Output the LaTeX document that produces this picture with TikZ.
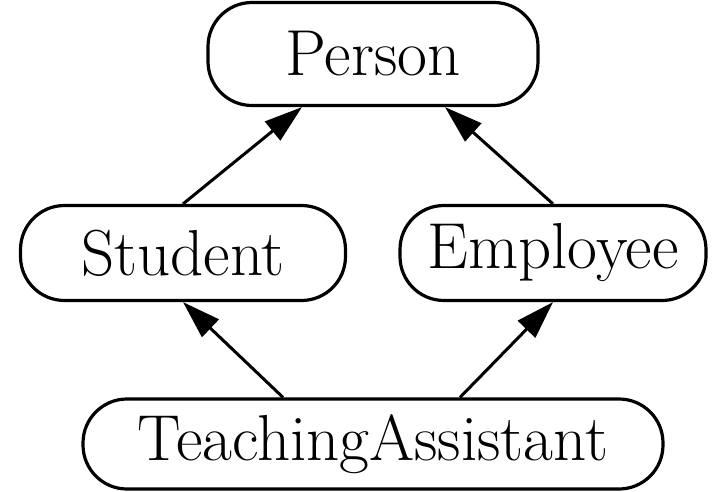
\documentclass[tikz,border=0pt]{standalone}
\usepackage{fontspec}
\usetikzlibrary{arrows.meta}
\begin{document}
\begin{tikzpicture}[x=1pt,y=-1pt,>={Triangle[length=38pt,width=24pt]},
  font=\fontsize{65}{70}\selectfont,
  cls/.style={draw,line width=3.2pt,rounded corners=44pt,inner sep=0pt},
  isa/.style={->,line width=3pt}]
\useasboundingbox (0,0) rectangle (713,491);
\node[cls,minimum width=330pt,minimum height=103pt] (person) at (373,54) {Person};
\node[cls,minimum width=325pt,minimum height=95pt] (student) at (183,253) {Student};
\node[cls,minimum width=306pt,minimum height=95pt] (employee) at (553,253) {Employee};
\node[cls,minimum width=580pt,minimum height=90pt] (ta) at (373,444) {TeachingAssistant};
\draw[isa] (student.north) -- ([xshift=-71pt]person.south);
\draw[isa] (employee.north) -- ([xshift=72pt]person.south);
\draw[isa] ([xshift=-90pt]ta.north) -- (student.south);
\draw[isa] ([xshift=87pt]ta.north) -- (employee.south);
\end{tikzpicture}
\end{document}
